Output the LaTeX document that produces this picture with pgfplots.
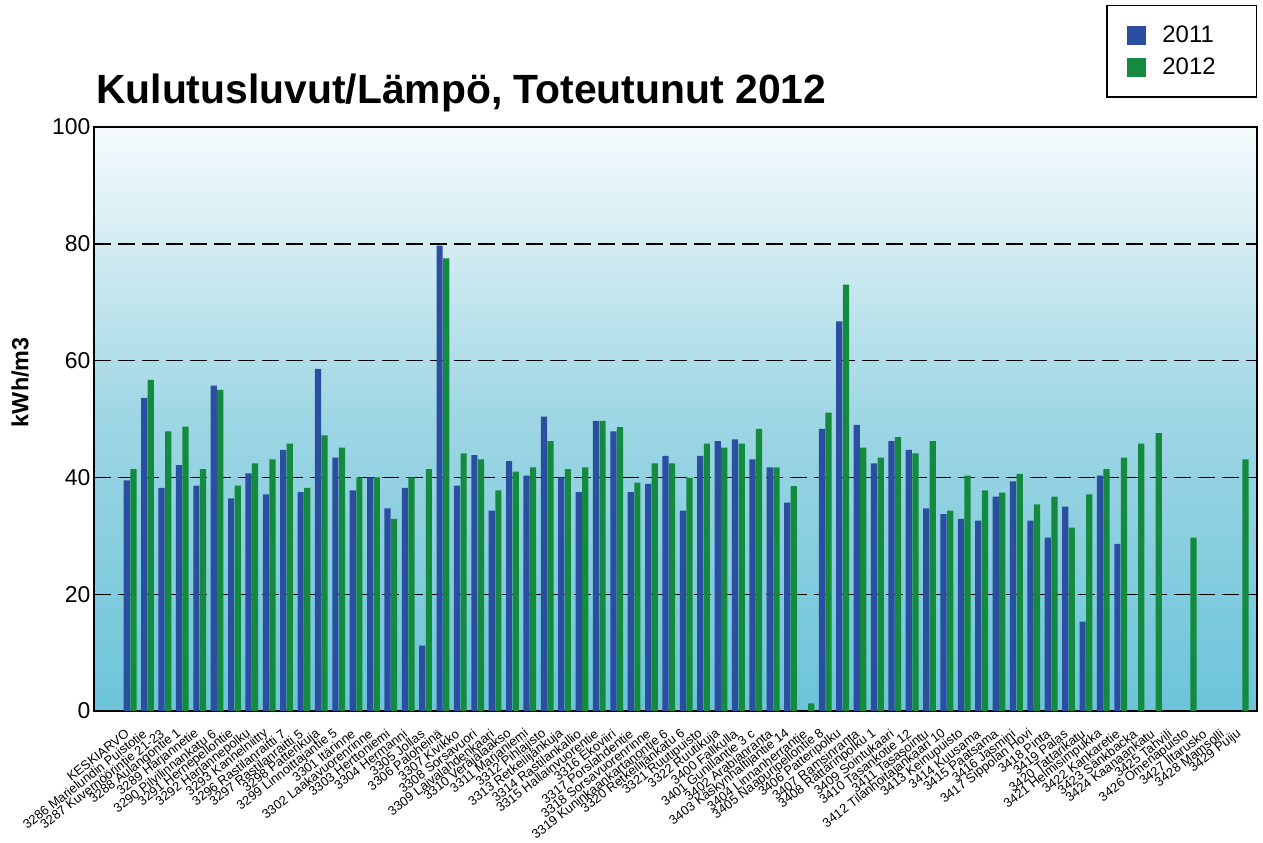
\documentclass[border=0pt]{standalone}
\usepackage{fontspec}
\setmainfont{Liberation Sans}
\usepackage{pgfplots}
\pgfplotsset{compat=1.18}
\definecolor{barblue}{RGB}{43,78,160}
\definecolor{bargreen}{RGB}{20,138,62}
\definecolor{bgTop}{RGB}{246,251,252}
\definecolor{bgMid}{RGB}{158,214,228}
\definecolor{bgBot}{RGB}{108,196,218}
\begin{document}
\begin{tikzpicture}
\begin{axis}[
  at={(94bp,-711bp)}, anchor=south west,
  scale only axis, width=1163bp, height=584bp,
  xmin=-2.08, xmax=64.85, ymin=0, ymax=100,
  ytick={0,20,40,60,80,100},
  xtick={0,...,64},
  xticklabels={KESKIARVO,3286 Marielundin Puistotie,3287 Kuvernöörintie 21-23,3288 Aulangontie 1,3289 Harjannetie,3290 Pilvilinnankatu 6,3291 Hernepellontie,3292 Harjannepolku,3293 Kannelniitty,3296 Rastilanraitti 7,3297 Rastilanraitti 5,3298 Patterikuja,3299 Linnoittajantie 5,3301 Itärinne,3302 Laakavuorenrinne,3303 Herttoniemi,3304 Hermanni,3305 Jollas,3306 Paloheinä,3307 Kivikko,3308 Sorsavuori,3309 Laivalahdenkaari,3310 Veräjälaakso,3311 Marjaniemi,3312 Pihlajisto,3313 Retkeilijänkuja,3314 Rastilankallio,3315 Hallainvuorentie,3316 Ekoviiri,3317 Porslahdentie,3318 Sorsavuorenrinne,3319 Kuninkaankartanontie 6,3320 Retkeilijänkatu 6,3321 Ruutipuisto,3322 Ruutikuja,3400 Fallkulla,3401 Gunillantie 3 c,3402 Arabianranta,3403 Käskynhaltijantie 14,3404 Linnanherrantie,3405 Naapuripellontie 8,3406 Patteripolku,3407 Ramsinranta,3408 Rättärinpolku 1,3409 Sointukaari,3410 Tasankotie 12,3411 Tasasointu,3412 Tilanhoitajankaari 10,3413 Keinupuisto,3414 Kuusama,3415 Paatsama,3416 Jasmini,3417 Sippolan Hovi,3418 Pinta,3419 Palas,3420 Tattarikatu,3421 Helmisimpukka,3422 Kankaretie,3423 Sänkbacka,3424 Kaanaankatu,3425 Tahvili,3426 Omenapuisto,3427 Iltarusko,3428 Mamsolli,3429 Puiju},
  xticklabel style={font=\fontsize{13}{13}\selectfont, rotate=38, anchor=east, inner sep=1bp, yshift=-15bp, xshift=-14bp},
  yticklabel style={font=\fontsize{23}{23}\selectfont},
  /pgf/number format/assume math mode=true,
  major tick length=0pt,
  ymajorgrids,
  major grid style={black, line width=1.4bp, dash pattern=on 17bp off 7bp},
  axis line style={black, line width=1.6bp},
  axis background/.style={shade, top color=bgTop, bottom color=bgBot, middle color=bgMid},
  ylabel={\bfseries kWh/m3},
  ylabel style={at={(axis description cs:-0.0636,0.563)}, anchor=center, font=\fontsize{23.5}{24}\selectfont},
  ybar, bar width=6.2bp,
  legend cell align=left,
  legend image code/.code={\fill[#1] (0bp,-9.5bp) rectangle (19.5bp,9.5bp);},
  legend style={at={(1.0,1.209)}, anchor=north east, draw=black, line width=1.3bp, fill=white,
    font=\fontsize{24}{28}\selectfont, inner xsep=20bp, inner ysep=18.5bp, row sep=10bp,
    /tikz/every odd column/.append style={column sep=14bp}},
]
\addplot[draw=none, fill=barblue, bar shift=-3.3bp] coordinates {
(0,39.5) (1,53.6) (2,38.2) (3,42.1) (4,38.6) (5,55.7) (6,36.4) (7,40.7) (8,37.1) (9,44.7)
(10,37.5) (11,58.6) (12,43.4) (13,37.8) (14,40.0) (15,34.7) (16,38.2) (17,11.2) (18,79.7) (19,38.6)
(20,43.8) (21,34.3) (22,42.8) (23,40.3) (24,50.4) (25,40.0) (26,37.5) (27,49.7) (28,47.9) (29,37.5)
(30,38.9) (31,43.7) (32,34.3) (33,43.7) (34,46.2) (35,46.5) (36,43.1) (37,41.7) (38,35.7)
(40,48.3) (41,66.7) (42,49.0) (43,42.4) (44,46.2) (45,44.7) (46,34.7) (47,33.7) (48,32.9) (49,32.6)
(50,36.7) (51,39.3) (52,32.6) (53,29.7) (54,35.0) (55,15.3) (56,40.3) (57,28.6)
};
\addlegendentry{\makebox[72bp][l]{2011}}
\addplot[draw=none, fill=bargreen, bar shift=3.3bp] coordinates {
(0,41.4) (1,56.7) (2,47.9) (3,48.7) (4,41.4) (5,55.0) (6,38.6) (7,42.4) (8,43.1) (9,45.8)
(10,38.2) (11,47.2) (12,45.1) (13,40.0) (14,40.0) (15,32.9) (16,40.0) (17,41.4) (18,77.5) (19,44.1)
(20,43.1) (21,37.8) (22,41.0) (23,41.7) (24,46.2) (25,41.4) (26,41.7) (27,49.7) (28,48.6) (29,39.1)
(30,42.4) (31,42.4) (32,39.9) (33,45.8) (34,45.1) (35,45.8) (36,48.3) (37,41.7) (38,38.5) (39,1.3)
(40,51.1) (41,73.0) (42,45.1) (43,43.4) (44,46.9) (45,44.1) (46,46.2) (47,34.3) (48,40.3) (49,37.8)
(50,37.4) (51,40.6) (52,35.4) (53,36.7) (54,31.4) (55,37.1) (56,41.4) (57,43.4) (58,45.8) (59,47.6)
(61,29.7) (64,43.1)
};
\addlegendentry{\makebox[72bp][l]{2012}}
\end{axis}
\node[anchor=base west, inner sep=0pt, font=\fontsize{41}{45}\selectfont\bfseries] at (96bp,-103bp) {Kulutusluvut/Lämpö, Toteutunut 2012};
\pgfresetboundingbox
\path[use as bounding box] (0,0) rectangle (1263bp,-843bp);
\end{tikzpicture}
\end{document}
